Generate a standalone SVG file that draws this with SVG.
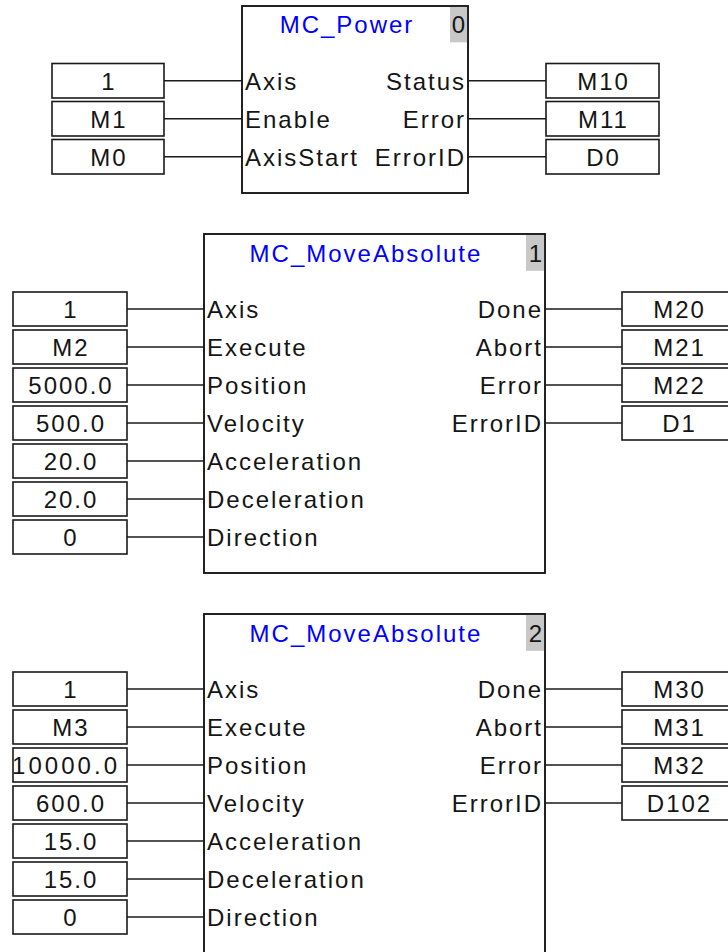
<svg xmlns="http://www.w3.org/2000/svg" width="728" height="952" viewBox="0 0 728 952">
<style>
.blk{fill:#fff;stroke:#1a1a1a;stroke-width:1.6}
.ol{fill:none;stroke:#1a1a1a;stroke-width:1.6}
.idx{fill:#c8c8c8}
.box{fill:#fff;stroke:#1a1a1a;stroke-width:1.6}
text{font-family:"Liberation Sans",Arial,sans-serif;font-size:24px;letter-spacing:2px;fill:#151515}
.title{fill:#0000ff}
.c{text-anchor:middle}
.e{text-anchor:end}
#connectors line{stroke:#1a1a1a;stroke-width:1.5}
</style>
<rect width="728" height="952" fill="#fff"/>
<g id="connectors">
<line x1="164" y1="80.75" x2="242" y2="80.75"/>
<line x1="164" y1="118.75" x2="242" y2="118.75"/>
<line x1="164" y1="156.75" x2="242" y2="156.75"/>
<line x1="468" y1="80.75" x2="546" y2="80.75"/>
<line x1="468" y1="118.75" x2="546" y2="118.75"/>
<line x1="468" y1="156.75" x2="546" y2="156.75"/>
<line x1="127" y1="309" x2="204" y2="309"/>
<line x1="127" y1="347" x2="204" y2="347"/>
<line x1="127" y1="385" x2="204" y2="385"/>
<line x1="127" y1="423" x2="204" y2="423"/>
<line x1="127" y1="461" x2="204" y2="461"/>
<line x1="127" y1="499" x2="204" y2="499"/>
<line x1="127" y1="537" x2="204" y2="537"/>
<line x1="545" y1="309" x2="622" y2="309"/>
<line x1="545" y1="347" x2="622" y2="347"/>
<line x1="545" y1="385" x2="622" y2="385"/>
<line x1="545" y1="423" x2="622" y2="423"/>
<line x1="127" y1="689" x2="204" y2="689"/>
<line x1="127" y1="727" x2="204" y2="727"/>
<line x1="127" y1="765" x2="204" y2="765"/>
<line x1="127" y1="803" x2="204" y2="803"/>
<line x1="127" y1="841" x2="204" y2="841"/>
<line x1="127" y1="879" x2="204" y2="879"/>
<line x1="127" y1="917" x2="204" y2="917"/>
<line x1="545" y1="689" x2="622" y2="689"/>
<line x1="545" y1="727" x2="622" y2="727"/>
<line x1="545" y1="765" x2="622" y2="765"/>
<line x1="545" y1="803" x2="622" y2="803"/>
</g>

<g id="fb0">
<rect class="blk" x="242" y="6" width="226" height="187"/>
<rect class="idx" x="450" y="6.8" width="17.2" height="35.5"/>
<rect class="ol" x="242" y="6" width="226" height="187"/>
<text class="title c" x="347" y="33">MC_Power</text>
<text class="e" x="467" y="33">0</text>
<text x="245" y="89.5">Axis</text>
<text x="245" y="127.5">Enable</text>
<text x="245" y="165.5">AxisStart</text>
<text class="e" x="466" y="89.5">Status</text>
<text class="e" x="466" y="127.5">Error</text>
<text class="e" x="466" y="165.5">ErrorID</text>
</g>
<g id="v0_in0"><rect class="box" x="52" y="63.5" width="112" height="34.5"/><text class="c" x="109" y="89.5">1</text></g>
<g id="v0_in1"><rect class="box" x="52" y="101.5" width="112" height="34.5"/><text class="c" x="109" y="127.5">M1</text></g>
<g id="v0_in2"><rect class="box" x="52" y="139.5" width="112" height="34.5"/><text class="c" x="109" y="165.5">M0</text></g>
<g id="v0_out0"><rect class="box" x="546" y="63.5" width="113" height="34.5"/><text class="c" x="603.5" y="89.5">M10</text></g>
<g id="v0_out1"><rect class="box" x="546" y="101.5" width="113" height="34.5"/><text class="c" x="603.5" y="127.5">M11</text></g>
<g id="v0_out2"><rect class="box" x="546" y="139.5" width="113" height="34.5"/><text class="c" x="603.5" y="165.5">D0</text></g>

<g id="fb1">
<rect class="blk" x="204" y="234" width="341" height="339"/>
<rect class="idx" x="526" y="234.8" width="18.2" height="36"/>
<rect class="ol" x="204" y="234" width="341" height="339"/>
<text class="title c" x="366" y="261.5">MC_MoveAbsolute</text>
<text class="e" x="544" y="261.5">1</text>
<text x="207" y="317.6">Axis</text>
<text x="207" y="355.6">Execute</text>
<text x="207" y="393.6">Position</text>
<text x="207" y="431.6">Velocity</text>
<text x="207" y="469.6">Acceleration</text>
<text x="207" y="507.6">Deceleration</text>
<text x="207" y="545.6">Direction</text>
<text class="e" x="543" y="317.6">Done</text>
<text class="e" x="543" y="355.6">Abort</text>
<text class="e" x="543" y="393.6">Error</text>
<text class="e" x="543" y="431.6">ErrorID</text>
</g>
<g id="v1_in0"><rect class="box" x="13" y="292" width="114" height="34"/><text class="c" x="71" y="317.6">1</text></g>
<g id="v1_in1"><rect class="box" x="13" y="330" width="114" height="34"/><text class="c" x="71" y="355.6">M2</text></g>
<g id="v1_in2"><rect class="box" x="13" y="368" width="114" height="34"/><text class="c" x="71" y="393.6">5000.0</text></g>
<g id="v1_in3"><rect class="box" x="13" y="406" width="114" height="34"/><text class="c" x="71" y="431.6">500.0</text></g>
<g id="v1_in4"><rect class="box" x="13" y="444" width="114" height="34"/><text class="c" x="71" y="469.6">20.0</text></g>
<g id="v1_in5"><rect class="box" x="13" y="482" width="114" height="34"/><text class="c" x="71" y="507.6">20.0</text></g>
<g id="v1_in6"><rect class="box" x="13" y="520" width="114" height="34"/><text class="c" x="71" y="545.6">0</text></g>
<g id="v1_out0"><rect class="box" x="622" y="292" width="113" height="34"/><text class="c" x="679.5" y="317.6">M20</text></g>
<g id="v1_out1"><rect class="box" x="622" y="330" width="113" height="34"/><text class="c" x="679.5" y="355.6">M21</text></g>
<g id="v1_out2"><rect class="box" x="622" y="368" width="113" height="34"/><text class="c" x="679.5" y="393.6">M22</text></g>
<g id="v1_out3"><rect class="box" x="622" y="406" width="113" height="34"/><text class="c" x="679.5" y="431.6">D1</text></g>

<g id="fb2">
<rect class="blk" x="204" y="614" width="341" height="400"/>
<rect class="idx" x="526" y="614.8" width="18.2" height="36"/>
<rect class="ol" x="204" y="614" width="341" height="400"/>
<text class="title c" x="366" y="641.5">MC_MoveAbsolute</text>
<text class="e" x="544" y="641.5">2</text>
<text x="207" y="697.6">Axis</text>
<text x="207" y="735.6">Execute</text>
<text x="207" y="773.6">Position</text>
<text x="207" y="811.6">Velocity</text>
<text x="207" y="849.6">Acceleration</text>
<text x="207" y="887.6">Deceleration</text>
<text x="207" y="925.6">Direction</text>
<text class="e" x="543" y="697.6">Done</text>
<text class="e" x="543" y="735.6">Abort</text>
<text class="e" x="543" y="773.6">Error</text>
<text class="e" x="543" y="811.6">ErrorID</text>
</g>
<g id="v2_in0"><rect class="box" x="13" y="672" width="114" height="34"/><text class="c" x="71" y="697.6">1</text></g>
<g id="v2_in1"><rect class="box" x="13" y="710" width="114" height="34"/><text class="c" x="71" y="735.6">M3</text></g>
<g id="v2_in2"><rect class="box" x="13" y="748" width="114" height="34"/><text x="12" y="773.6" textLength="107" lengthAdjust="spacing">10000.0</text></g>
<g id="v2_in3"><rect class="box" x="13" y="786" width="114" height="34"/><text class="c" x="71" y="811.6">600.0</text></g>
<g id="v2_in4"><rect class="box" x="13" y="824" width="114" height="34"/><text class="c" x="71" y="849.6">15.0</text></g>
<g id="v2_in5"><rect class="box" x="13" y="862" width="114" height="34"/><text class="c" x="71" y="887.6">15.0</text></g>
<g id="v2_in6"><rect class="box" x="13" y="900" width="114" height="34"/><text class="c" x="71" y="925.6">0</text></g>
<g id="v2_out0"><rect class="box" x="622" y="672" width="113" height="34"/><text class="c" x="679.5" y="697.6">M30</text></g>
<g id="v2_out1"><rect class="box" x="622" y="710" width="113" height="34"/><text class="c" x="679.5" y="735.6">M31</text></g>
<g id="v2_out2"><rect class="box" x="622" y="748" width="113" height="34"/><text class="c" x="679.5" y="773.6">M32</text></g>
<g id="v2_out3"><rect class="box" x="622" y="786" width="113" height="34"/><text class="c" x="679.5" y="811.6">D102</text></g>
</svg>
